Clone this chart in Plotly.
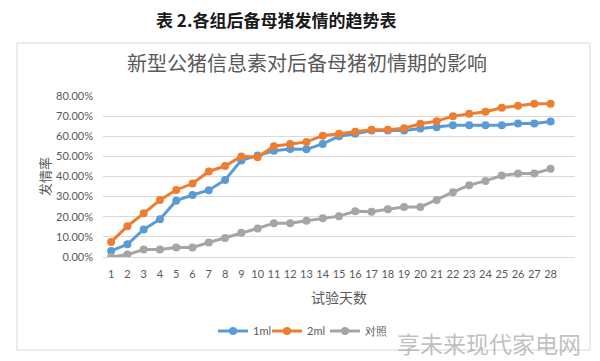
import plotly.graph_objects as go

days = list(range(1, 29))
day_labels = [str(d) for d in days]
s1ml = [3.0, 6.3, 13.7, 18.8, 28.0, 30.8, 33.2, 38.3, 48.0, 50.4,
        52.8, 53.7, 53.5, 56.2, 60.0, 61.2, 62.8, 62.8, 62.8, 63.8,
        64.5, 65.5, 65.5, 65.5, 65.5, 66.3, 66.3, 67.3]
s2ml = [7.5, 15.3, 21.7, 28.3, 33.3, 36.5, 42.5, 45.2, 50.0, 49.6,
        55.0, 56.2, 57.2, 60.3, 61.2, 62.2, 63.2, 63.2, 64.0, 66.2,
        67.5, 70.0, 71.2, 72.2, 74.2, 75.2, 76.2, 76.2]
control = [0.0, 1.2, 3.7, 3.7, 4.7, 4.7, 7.2, 9.5, 12.0, 14.2,
           16.8, 16.8, 18.0, 19.2, 20.3, 22.7, 22.5, 23.7, 24.8, 24.8,
           28.3, 32.2, 35.7, 37.8, 40.5, 41.5, 41.5, 43.8]
y_ticks = [0, 0.1, 0.2, 0.3, 0.4, 0.5, 0.6, 0.7, 0.8]
y_tick_labels = ["0.00%", "10.00%", "20.00%", "30.00%", "40.00%",
                 "50.00%", "60.00%", "70.00%", "80.00%"]

series = [("1ml", s1ml, "#5B9BD5"), ("2ml", s2ml, "#ED7D31"), ("对照", control, "#A5A5A5")]
legend_ids = ["legend", "legend2", "legend3"]

# page has an 8px body margin: figure coords = reference coords - 8
OFF = 8
FW, FH = 600 - OFF, 361 - OFF
PL, PR, PT, PB = 103 - OFF, 575 - OFF, 96 - OFF, 257 - OFF
W, H = PR - PL, PB - PT


def px(x):
    return (x - OFF - PL) / W


def py(y):
    return (PB - (y - OFF)) / H


fig = go.Figure()
for (name, vals, color), lid in zip(series, legend_ids):
    fig.add_trace(go.Scatter(
        x=days, y=[v / 100 for v in vals], name=name, mode="lines+markers",
        line=dict(color=color, width=3),
        marker=dict(color=color, size=8, symbol="circle"),
        legend=lid,
    ))

txt = "#595959"
leg_font = dict(family="Lato, Open Sans, sans-serif", size=11, color=txt)


def leg(xref_px):
    return dict(orientation="h", x=px(xref_px), xanchor="left", y=py(331), yanchor="middle",
                font=leg_font, itemwidth=30, tracegroupgap=0, itemclick=False,
                bgcolor="rgba(0,0,0,0)", borderwidth=0)


fig.update_layout(
    width=FW, height=FH,
    margin=dict(l=PL, r=FW - PR, t=PT, b=FH - PB),
    paper_bgcolor="white", plot_bgcolor="white",
    showlegend=True,
    legend=leg(213), legend2=leg(267), legend3=leg(325),
    xaxis=dict(range=[0.5, 29.5], tickvals=days, ticktext=day_labels,
               showgrid=False, zeroline=False, showline=True, linecolor="#d9d9d9",
               ticks="", ticklabelstandoff=7,
               tickfont=dict(family="Lato, Open Sans, sans-serif", size=11, color=txt),
               title=dict(text="试验天数", font=dict(family="Noto Sans CJK SC", size=14, color=txt),
                          standoff=13)),
    yaxis=dict(range=[0, 0.8], tickvals=y_ticks, ticktext=y_tick_labels,
               showgrid=True, gridcolor="#d9d9d9", gridwidth=1, zeroline=False,
               showline=False, ticks="", ticklabelstandoff=9,
               tickfont=dict(family="Lato, Open Sans, sans-serif", size=11, color=txt),
               title=dict(text="发情率", font=dict(family="Noto Sans CJK SC", size=13, color=txt),
                          standoff=2)),
    shapes=[dict(type="rect", xref="paper", yref="paper",
                 x0=px(17), x1=px(590), y0=py(350), y1=py(43),
                 line=dict(color="#d9d9d9", width=1), fillcolor="rgba(0,0,0,0)", layer="below")],
    annotations=[
        dict(text="<b>表 2.各组后备母猪发情的趋势表</b>", xref="paper", yref="paper",
             x=px(276), y=py(19), yanchor="middle", xanchor="center", showarrow=False,
             font=dict(family="Noto Sans CJK SC", size=17, color="#1a1a1a")),
        dict(text="新型公猪信息素对后备母猪初情期的影响", xref="paper", yref="paper",
             x=px(307), y=py(62), yanchor="middle", xanchor="center", showarrow=False,
             font=dict(family="Noto Sans CJK SC", size=20, color=txt)),
        dict(text="享未来现代家电网", xref="paper", yref="paper",
             x=px(489), y=py(343), yanchor="middle", xanchor="center", showarrow=False,
             font=dict(family="Noto Sans CJK SC", size=23, color="rgba(150,150,150,0.6)")),
    ],
)

fig.write_html("out.html")
